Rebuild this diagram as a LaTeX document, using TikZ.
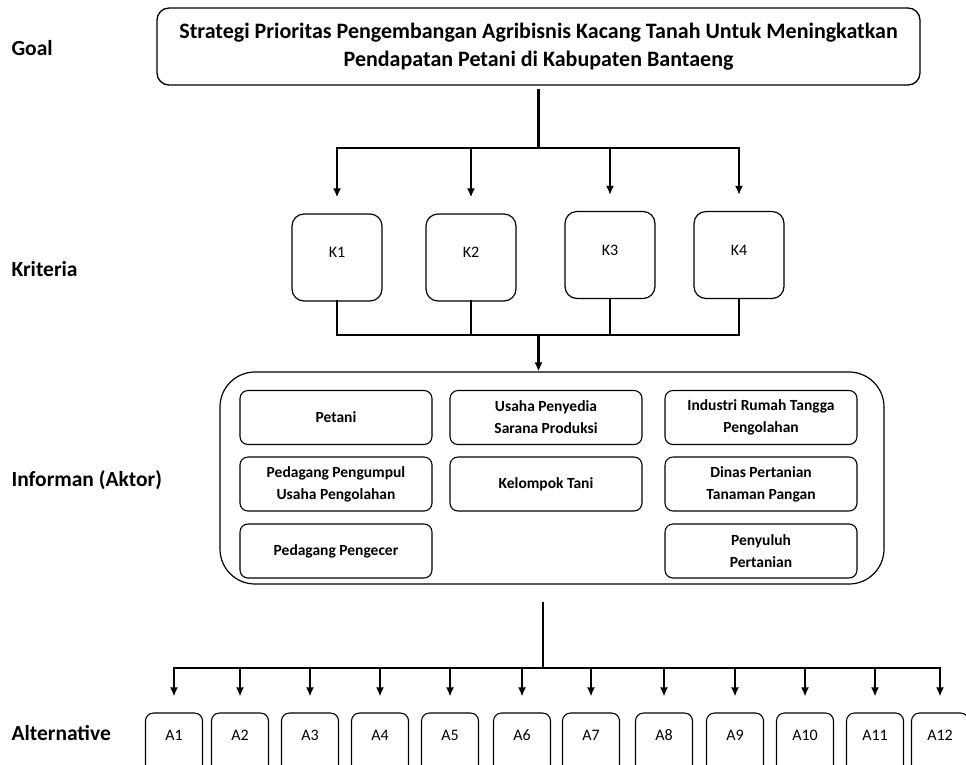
\documentclass[tikz,border=0pt]{standalone}
\usepackage{fontspec}
\setmainfont{Carlito}
\usetikzlibrary{arrows.meta}

\begin{document}
\begin{tikzpicture}[x=1pt, y=-1pt,
  every node/.style={font=\fontsize{16}{18}\selectfont, align=center},
  side/.style={anchor=west, font=\fontsize{21.5}{24}\selectfont\bfseries},
  goalbox/.style={draw, line width=1.3pt, rounded corners=12pt, minimum width=763pt, minimum height=77pt, font=\fontsize{22}{28}\selectfont\bfseries},
  kbox/.style={draw, line width=1.2pt, rounded corners=12pt, minimum width=90pt, minimum height=87pt, text height=10pt, text depth=10pt},
  aktorbox/.style={draw, line width=1.1pt, rounded corners=8pt, minimum width=192pt, minimum height=54pt, font=\fontsize{15.5}{22}\selectfont\bfseries},
  altbox/.style={draw, line width=1.1pt, rounded corners=8pt, minimum width=57pt, minimum height=62pt, text height=11pt, text depth=18pt, inner sep=0pt, font=\fontsize{16}{18}\selectfont},
  line/.style={line width=2.4pt, line cap=rect},
  arr/.style={line width=2.4pt, -{Latex[length=9pt,width=8pt]}}
]
  \useasboundingbox (0,0) rectangle (966,764);
  \clip (0,0) rectangle (966,764);

  % Side labels
  \node[side] (lgoal) at (8,48) {Goal};
  \node[side] (lkrit) at (8,269) {Kriteria};
  \node[side] (lakt) at (8,480) {Informan (Aktor)};
  \node[side] (lalt) at (8,733) {Alternative};

  % Goal
  \node[goalbox] (goal) at (538.5,46.5) {Strategi Prioritas Pengembangan Agribisnis Kacang Tanah Untuk Meningkatkan\\Pendapatan Petani di Kabupaten Bantaeng};
  \path (goal.south) ++(0,5) coordinate (gout);
  \coordinate (gbar) at (538.5,148);
  \draw[line] (gout) -- (gbar);

  % Kriteria
  \node[kbox] (k1) at (337,257.5) {K1};
  \node[kbox] (k2) at (471,257.5) {K2};
  \node[kbox] (k3) at (610,255) {K3};
  \node[kbox] (k4) at (739,255) {K4};
  \draw[line] (k1.north |- gbar) -- (k4.north |- gbar);
  \foreach \k in {k1,k2,k3,k4}{
    \draw[arr] (\k.north |- gbar) -- ([yshift=16pt]\k.north);
  }
  \coordinate (kbar) at (538.5,335);
  \foreach \k in {k1,k2,k3,k4}{
    \draw[line] (\k.south) -- (\k.south |- kbar);
  }
  \draw[line] (k1.south |- kbar) -- (k4.south |- kbar);

  % Informan (Aktor)
  \node[draw, line width=1.2pt, rounded corners=35pt, minimum width=664pt, minimum height=212pt] (aktor) at (552,478) {};
  \draw[arr] (kbar) -- (aktor.north -| kbar);
  \node[aktorbox] (petani) at (336,417.5) {Petani};
  \node[aktorbox] (sarana) at (546,417.5) {Usaha Penyedia\\Sarana Produksi};
  \node[aktorbox] (industri) at (761,417.5) {Industri Rumah Tangga\\Pengolahan};
  \node[aktorbox] (pengumpul) at (336,484) {Pedagang Pengumpul\\Usaha Pengolahan};
  \node[aktorbox] (poktan) at (546,484) {Kelompok Tani};
  \node[aktorbox] (dinas) at (761,484) {Dinas Pertanian\\Tanaman Pangan};
  \node[aktorbox] (pengecer) at (336,551) {Pedagang Pengecer};
  \node[aktorbox] (penyuluh) at (761,551) {Penyuluh\\Pertanian};

  % Alternative
  \coordinate (abar) at (543,668);
  \path (aktor.south -| abar) ++(0,19) coordinate (aout);
  \draw[line] (aout) -- (abar);
  \foreach \i/\x in {1/174, 2/240, 3/310, 4/380, 5/450, 6/522, 7/591, 8/664, 9/735, 10/805, 11/875, 12/940}{
    \node[altbox] (a\i) at (\x,744) {A\i};
    \draw[arr] (a\i.north |- abar) -- ([yshift=16pt]a\i.north);
  }
  \draw[line] (a1.north |- abar) -- (a12.north |- abar);
\end{tikzpicture}
\end{document}
